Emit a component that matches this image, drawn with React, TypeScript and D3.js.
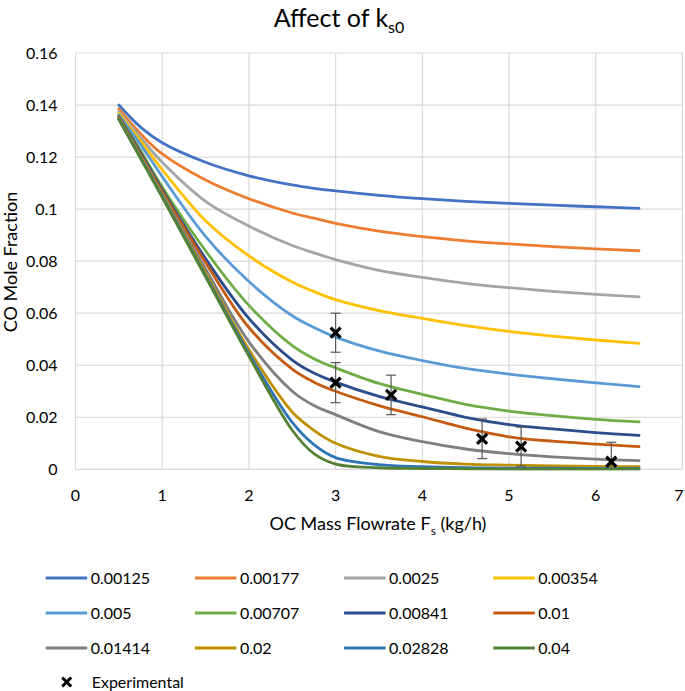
import * as d3 from 'd3';
import React from 'react';

// sampled flowrates (kg/h) for the model curves
const flowrates = [0.5, 0.75, 1, 1.5, 2, 2.5, 2.75, 3, 3.5, 4, 4.5, 5, 5.5, 6, 6.5];

const ks0Labels = ['0.00125', '0.00177', '0.0025', '0.00354', '0.005', '0.00707', '0.00841', '0.01', '0.01414', '0.02', '0.02828', '0.04'];

const k00125 = [0.14, 0.1315, 0.1255, 0.118, 0.1128, 0.1093, 0.108, 0.107, 0.1053, 0.104, 0.103, 0.1022, 0.1015, 0.1009, 0.1003];
const k00177 = [0.1385, 0.129, 0.1212, 0.1112, 0.104, 0.0985, 0.0965, 0.0945, 0.0915, 0.0894, 0.0878, 0.0866, 0.0856, 0.0847, 0.084];
const k0025 = [0.1375, 0.1275, 0.118, 0.103, 0.0935, 0.086, 0.0832, 0.0806, 0.0765, 0.0738, 0.0715, 0.0698, 0.0684, 0.0672, 0.0663];
const k00354 = [0.1368, 0.1262, 0.1152, 0.0955, 0.082, 0.072, 0.0683, 0.0652, 0.061, 0.058, 0.0552, 0.053, 0.0512, 0.0497, 0.0484];
const k005 = [0.1362, 0.1248, 0.1125, 0.0895, 0.0722, 0.059, 0.0545, 0.0508, 0.0455, 0.0418, 0.0388, 0.0366, 0.0348, 0.0332, 0.0318];
const k00707 = [0.1358, 0.1225, 0.1085, 0.084, 0.063, 0.0475, 0.0425, 0.039, 0.033, 0.0288, 0.025, 0.0224, 0.0206, 0.0192, 0.0182];
const k00841 = [0.1355, 0.1217, 0.1075, 0.081, 0.058, 0.042, 0.037, 0.0335, 0.028, 0.024, 0.02, 0.0172, 0.0155, 0.0141, 0.013];
const k001 = [0.1352, 0.121, 0.1068, 0.0795, 0.0545, 0.0385, 0.0335, 0.03, 0.0245, 0.0202, 0.0158, 0.0125, 0.0108, 0.0097, 0.0087];
const k01414 = [0.135, 0.1205, 0.106, 0.077, 0.049, 0.03, 0.0245, 0.021, 0.0145, 0.0106, 0.0078, 0.006, 0.0048, 0.0039, 0.0033];
const k002 = [0.1348, 0.1202, 0.1055, 0.0755, 0.046, 0.022, 0.015, 0.01, 0.005, 0.003, 0.002, 0.0016, 0.0013, 0.0011, 0.001];
const k02828 = [0.1346, 0.1198, 0.105, 0.0745, 0.0445, 0.018, 0.0095, 0.0045, 0.0018, 0.001, 0.0006, 0.0004, 0.0004, 0.0003, 0.0003];
const k004 = [0.1345, 0.1195, 0.1045, 0.074, 0.0435, 0.015, 0.006, 0.002, 0.0006, 0.0003, 0.0002, 0.0001, 0.0001, 0.0001, 0.0001];

const seriesValues = [k00125, k00177, k0025, k00354, k005, k00707, k00841, k001, k01414, k002, k02828, k004];

// experimental points with error bars
const expFlow = [3, 3, 3.64, 4.69, 5.14, 6.18];
const expMole = [0.0525, 0.0333, 0.0286, 0.0117, 0.0087, 0.0029];
const expError = [0.0075, 0.0077, 0.0076, 0.0076, 0.0075, 0.0075];

const xTicks = [0, 1, 2, 3, 4, 5, 6, 7];
const yTicks = [0, 0.02, 0.04, 0.06, 0.08, 0.1, 0.12, 0.14, 0.16];

const colors = ['#4472C4', '#ED7D31', '#A5A5A5', '#FFC000', '#5B9BD5', '#70AD47', '#2B4D8C', '#C55A11', '#7F7F7F', '#BF9000', '#2E75B6', '#548235'];

const FONT = 'Lato, "Noto Sans", sans-serif';

export default function App() {
  const width = 685;
  const height = 691;
  const plot = { left: 75.5, right: 682.4, top: 53, bottom: 469.3 };

  const x = d3.scaleLinear().domain([0, 7]).range([plot.left, plot.right]);
  const y = d3.scaleLinear().domain([0, 0.16]).range([plot.bottom, plot.top]);

  const line = d3
    .line<number>()
    .x((_, i) => x(flowrates[i]))
    .y((d) => Math.min(y(d), plot.bottom))
    .curve(d3.curveCatmullRom.alpha(0.5));

  const fmt = (v: number) => String(+v.toFixed(2));

  const legendX = (i: number) => 45.7 + (i % 4) * 149.2;
  const legendY = (i: number) => 578 + Math.floor(i / 4) * 35;

  const cross = (cx: number, cy: number, r: number) =>
    `M${cx - r},${cy - r}L${cx + r},${cy + r}M${cx - r},${cy + r}L${cx + r},${cy - r}`;

  return (
    <svg
      width={width}
      height={height}
      style={{ position: 'absolute', left: 0, top: 0, background: '#fff' }}
      fontFamily={FONT}
    >
      <defs>
        <clipPath id="plotClip">
          <rect x={plot.left} y={plot.top - 5} width={plot.right - plot.left} height={plot.bottom - plot.top + 6.5} />
        </clipPath>
      </defs>
      <rect width={width} height={height} fill="#fff" />
      <text x={339} y={27} textAnchor="middle" fontSize={25} fill="#000">
        Affect of k<tspan dy={6} fontSize={16}>s0</tspan>
      </text>

      {/* grid */}
      <g stroke="#D9D9D9" strokeWidth={1.2}>
        {yTicks.map((t) => (
          <line key={'gy' + t} x1={plot.left} x2={plot.right} y1={y(t)} y2={y(t)} />
        ))}
        {xTicks.map((t) => (
          <line key={'gx' + t} x1={x(t)} x2={x(t)} y1={plot.top} y2={plot.bottom} />
        ))}
      </g>

      {/* y tick labels */}
      <g fontSize={16} fill="#000" textAnchor="end">
        {yTicks.map((t) => (
          <text key={'ty' + t} x={57.5} y={y(t)} dy="0.35em">
            {fmt(t)}
          </text>
        ))}
      </g>
      {/* x tick labels */}
      <g fontSize={16} fill="#000" textAnchor="middle">
        {xTicks.map((t) => (
          <text key={'tx' + t} x={Math.min(x(t), 679)} y={501}>
            {t}
          </text>
        ))}
      </g>

      <text x={378} y={530} textAnchor="middle" fontSize={18} fill="#000">
        OC Mass Flowrate F<tspan dy={5} fontSize={12}>s</tspan>
        <tspan dy={-5}> (kg/h)</tspan>
      </text>
      <text transform="translate(16.5,262) rotate(-90)" textAnchor="middle" fontSize={18} fill="#000">
        CO Mole Fraction
      </text>

      {/* model curves */}
      <g fill="none" strokeWidth={2.8} strokeLinecap="round" clipPath="url(#plotClip)">
        {seriesValues.map((vals, i) => (
          <path key={ks0Labels[i]} d={line(vals) || ''} stroke={colors[i]} />
        ))}
      </g>

      {/* error bars */}
      <g stroke="#595959" strokeWidth={1.2}>
        {expFlow.map((f, i) => {
          const top = y(expMole[i] + expError[i]);
          const bot = y(Math.max(0, expMole[i] - expError[i]));
          const cx = x(f);
          return (
            <g key={'eb' + i}>
              <line x1={cx} x2={cx} y1={top} y2={bot} />
              <line x1={cx - 5} x2={cx + 5} y1={top} y2={top} />
              {expMole[i] - expError[i] > 0 && <line x1={cx - 5} x2={cx + 5} y1={bot} y2={bot} />}
            </g>
          );
        })}
      </g>
      <g stroke="#000" strokeWidth={3.2} fill="none">
        {expFlow.map((f, i) => (
          <path key={'m' + i} d={cross(x(f), y(expMole[i]), 5)} />
        ))}
      </g>

      {/* legend */}
      <g fontSize={16} fill="#000">
        {ks0Labels.map((lab, i) => (
          <g key={'lg' + lab}>
            <line
              x1={legendX(i)}
              x2={legendX(i) + 41.5}
              y1={legendY(i)}
              y2={legendY(i)}
              stroke={colors[i]}
              strokeWidth={3}
            />
            <text x={legendX(i) + 45} y={legendY(i)} dy="0.35em">
              {lab}
            </text>
          </g>
        ))}
        <path d={cross(66.7, 682, 4.5)} stroke="#000" strokeWidth={3} />
        <text x={91.7} y={682} dy="0.35em">
          Experimental
        </text>
      </g>
    </svg>
  );
}
